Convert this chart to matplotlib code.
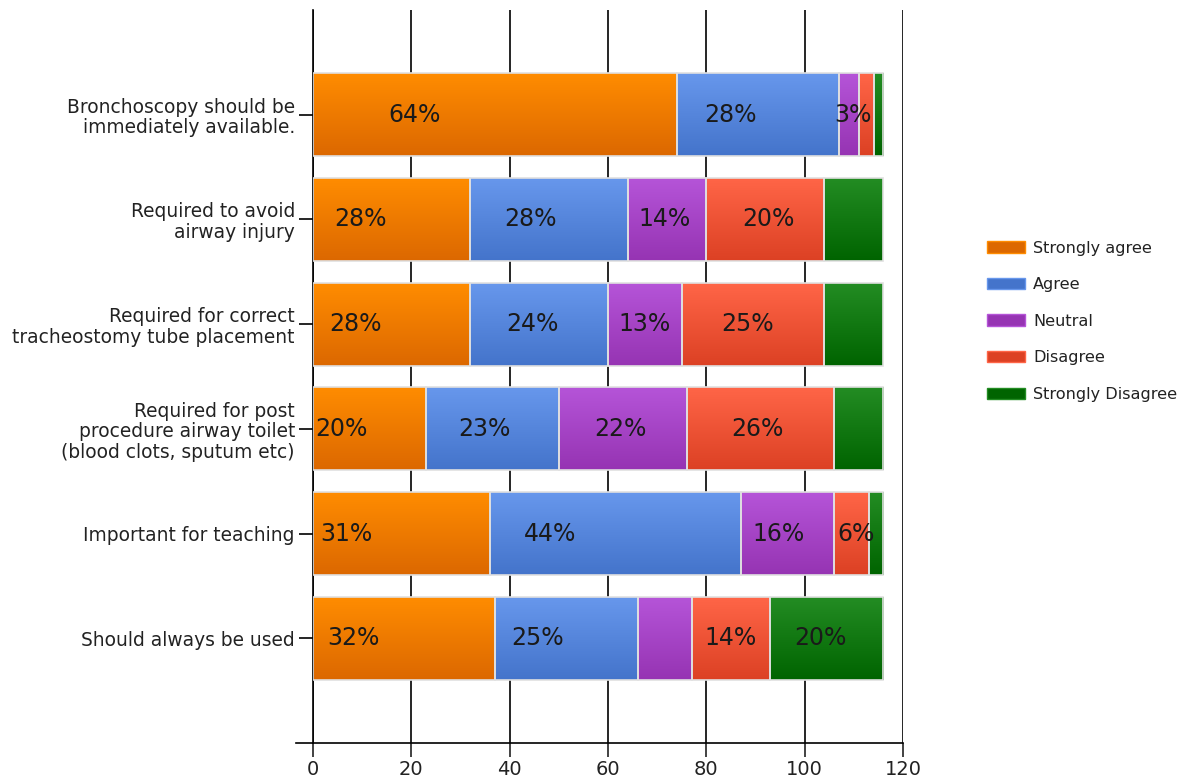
import numpy as np
import matplotlib
matplotlib.use('Agg')
import matplotlib.pyplot as plt
from matplotlib.colors import LinearSegmentedColormap
from matplotlib.patches import Patch

questions = [
	'Bronchoscopy should be\nimmediately available.',
	'Required to avoid\nairway injury',
	'Required for correct\ntracheostomy tube placement',
	'Required for post\nprocedure airway toilet\n(blood clots, sputum etc)',
	'Important for teaching',
	'Should always be used',
]
responses = ['Strongly agree', 'Agree', 'Neutral', 'Disagree', 'Strongly Disagree']

# counts per response (columns follow `responses`)
strongly_agree = [74, 32, 32, 23, 36, 37]
agree = [33, 32, 28, 27, 51, 29]
neutral = [4, 16, 15, 26, 19, 11]
disagree = [3, 24, 29, 30, 7, 16]
strongly_disagree = [2, 12, 12, 10, 3, 23]

pct_labels = [
	['64%', '28%', '3%', '', ''],
	['28%', '28%', '14%', '20%', ''],
	['28%', '24%', '13%', '25%', ''],
	['20%', '23%', '22%', '26%', ''],
	['31%', '44%', '16%', '6%', ''],
	['32%', '25%', '', '14%', '20%'],
]
# where each label sits inside its segment (fraction of width)
label_pos = [
	[0.28, 0.33, 0.7, 0.5, 0.5],
	[0.3, 0.38, 0.47, 0.53, 0.5],
	[0.27, 0.45, 0.49, 0.46, 0.5],
	[0.25, 0.44, 0.48, 0.48, 0.5],
	[0.19, 0.24, 0.41, 0.63, 0.5],
	[0.22, 0.3, 0.5, 0.49, 0.44],
]

# (top, bottom) gradient colours
grads = [
	('#ff8c00', '#dc6800'),
	('#6797ec', '#4474cb'),
	('#b554d8', '#9634b3'),
	('#ff6547', '#dc4124'),
	('#238c23', '#006400'),
]

fig = plt.figure(figsize=(11.9, 7.81), dpi=100)
ax = fig.add_axes([313/1190, 1 - 743/781, 590/1190, 733/781])

series = [strongly_agree, agree, neutral, disagree, strongly_disagree]
y = np.arange(len(questions))
h = 0.79
left = np.zeros(len(questions))
for k, vals in enumerate(series):
	bars = ax.barh(y, vals, left=left, height=h, color='none',
		edgecolor='#e0e0e0', linewidth=1.2, zorder=3)
	cmap = LinearSegmentedColormap.from_list('g%d' % k, grads[k])
	for i, rect in enumerate(bars):
		x0 = left[i]
		x1 = left[i] + vals[i]
		im = ax.imshow(np.linspace(0, 1, 64).reshape(-1, 1), cmap=cmap,
			extent=[x0, x1, y[i] + h/2, y[i] - h/2], origin='upper',
			aspect='auto', zorder=2, interpolation='bilinear')
		im.set_clip_path(rect)
		txt = pct_labels[i][k]
		if txt:
			ax.text(x0 + label_pos[i][k] * vals[i], y[i], txt, fontsize=17,
				ha='center', va='center', color='#1a1a1a', zorder=4)
	left = left + np.array(vals)

ax.set_xlim(0, 120)
ax.set_ylim(6, -1)
ax.set_xticks(range(0, 121, 20))
ax.set_yticks(y)
ax.set_yticklabels(questions, fontsize=13.4, color='#222222', linespacing=1.1)
ax.tick_params(axis='x', labelsize=14, colors='#222222', length=10, width=1.2,
	direction='out', pad=2)
ax.tick_params(axis='y', length=10, width=1.2, direction='out', pad=3)
ax.xaxis.grid(True, color='black', linewidth=1.2, zorder=0)
ax.set_axisbelow(True)
for s in ['top', 'right']:
	ax.spines[s].set_visible(False)
ax.spines['left'].set_linewidth(1.2)
ax.spines['bottom'].set_linewidth(1.2)
ax.plot([-3.5, 0], [6, 6], color='black', lw=1.2, clip_on=False)

handles = [Patch(facecolor=grads[k][1], edgecolor=grads[k][0]) for k in range(5)]
fig.legend(handles, responses, loc='upper left', bbox_to_anchor=(972/1190, 1 - 226/781),
	frameon=False, fontsize=11.6, labelspacing=1.34, handlelength=2.4,
	handleheight=0.7, handletextpad=0.5, labelcolor='#222222')

fig.savefig('out.png', dpi=100)
